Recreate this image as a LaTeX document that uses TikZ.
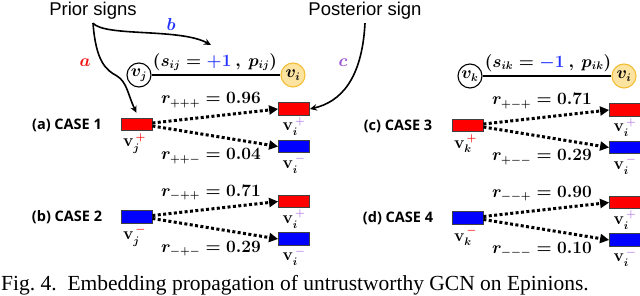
\documentclass[tikz,border=0pt]{standalone}
\usepackage{amsmath,amssymb,bm}
\usepackage{xcolor}
\usepackage{fontspec}
\setmainfont{Liberation Serif}
\setsansfont{Liberation Sans}
\newfontfamily\casefont{Open Sans}
\usepackage{tikz}
\usetikzlibrary{arrows.meta,positioning}
\definecolor{embred}{HTML}{FF0000}
\definecolor{embblue}{HTML}{0000FF}
\definecolor{signblue}{HTML}{2233FF}
\definecolor{arcred}{HTML}{F01010}
\definecolor{arcpurple}{HTML}{9A4FD2}
\definecolor{suppurple}{HTML}{B57BE8}
\definecolor{nodeyellow}{HTML}{FCE3A0}
\definecolor{nodeedge}{HTML}{F2BE35}
\tikzset{
  hint/.style={-{Stealth[length=7pt,width=6.5pt]},line width=1.6pt,draw=black},
  prop/.style={-{Triangle[length=9pt,width=9pt]},line width=3pt,dash pattern=on 3pt off 2.4pt},
  user/.style={circle,draw=black,line width=1.1pt,minimum size=24pt,inner sep=0pt,
               font=\fontsize{16}{16}\selectfont\boldmath},
  target/.style={user,draw=nodeedge,fill=nodeyellow},
  emb/.style={draw=black!75,line width=0.8pt,minimum width=31pt,minimum height=12.5pt,inner sep=0pt},
  posemb/.style={emb,fill=embred},
  negemb/.style={emb,fill=embblue},
  head/.style={font=\sffamily\fontsize{18.5}{18.5}\selectfont},
  case/.style={font=\casefont\bfseries\fontsize{14.5}{14.5}\selectfont},
  rate/.style={font=\fontsize{16}{16}\selectfont\boldmath},
  vlab/.style={font=\fontsize{16}{16}\selectfont\boldmath,inner sep=0pt},
  arc/.style={font=\fontsize{18}{18}\selectfont\boldmath}
}
\begin{document}
\begin{tikzpicture}[x=1pt,y=-1pt]
  \useasboundingbox (0,0) rectangle (640,296);
  \node[head] (prior) at (93,11) {Prior signs};
  \node[head] (post) at (365,11) {Posterior sign};
  \node[user] (vj) at (139,75) {$v_j$};
  \node[target] (vi1) at (293,75) {$v_i$};
  \draw[line width=2.6pt] (vj) -- (vi1);
  \node[rate] (eij) at (215,62) {$(s_{ij}=\textcolor{signblue}{+1}~,~p_{ij})$};
  \node[user] (vk) at (470,76) {$v_k$};
  \node[target] (vi2) at (624,76) {$v_i$};
  \draw[line width=2.6pt] (vk) -- (vi2);
  \node[rate] (eik) at (548,63) {$(s_{ik}=\textcolor{signblue}{-1}~,~p_{ik})$};
  \foreach \n/\lab/\dx/\dy/\sty/\src/\sgn/\pre/\vp/\vm in {
    1/{(a) CASE 1}/0/0/posemb/j/+/++/0.96/0.04,
    2/{(b) CASE 2}/0/92.5/negemb/j/-/-+/0.71/0.29,
    3/{(c) CASE 3}/331/1/posemb/k/+/+-/0.71/0.29,
    4/{(d) CASE 4}/331/93.5/negemb/k/-/--/0.90/0.10}{
    \begin{scope}[shift={(\dx,\dy)}]
      \node[case] (lab\n) at (67,125) {\lab};
      \node[\sty] (s\n) at (136.5,124.5) {};
      \node[vlab,below=2pt of s\n,xshift=-2pt] (sl\n) {$\mathbf{v}_{\src}^{\,\textcolor{embred}{\sgn}}$};
      \node[posemb] (tp\n) at (294,109) {};
      \node[negemb] (tn\n) at (294,146.5) {};
      \node[vlab,below=1.5pt of tp\n] (tpl\n) {$\mathbf{v}_i^{\,\textcolor{suppurple}{+}}$};
      \node[vlab,below=1.5pt of tn\n] (tnl\n) {$\mathbf{v}_i^{\,\textcolor{suppurple}{-}}$};
      \node[rate] (ru\n) at (211,100) {$r_{\pre+}=\vp$};
      \node[rate] (rl\n) at (211,156) {$r_{\pre-}=\vm$};
      \draw[prop] ([yshift=1.5pt]s\n.east) -- (tp\n.west);
      \draw[prop] ([yshift=-1.5pt]s\n.east) -- (tn\n.west);
    \end{scope}
  }
  \coordinate (btip) at (211,45);
  \draw[hint] (prior.south) .. controls (96,62) and (106,70) .. (117,76)
    .. controls (127,82) and (128,95) .. ([yshift=5pt]s1.north);
  \draw[hint] (prior.south) .. controls (105,37) and (180,28) .. (btip);
  \draw[hint] (post.south) .. controls (362,80) and (340,102) .. (tp1.east);
  \node[arc,text=arcred] (la) at (85,63) {$a$};
  \node[arc,text=signblue] (lb) at (171,25) {$b$};
  \node[arc,text=arcpurple] (lc) at (343,63) {$c$};
  \node[anchor=base west,inner sep=0pt,font=\fontsize{21.5}{21.5}\selectfont] (cap) at (1,291)
    {Fig.~4.\ \ Embedding propagation of untrustworthy GCN on Epinions.};
\end{tikzpicture}
\end{document}
